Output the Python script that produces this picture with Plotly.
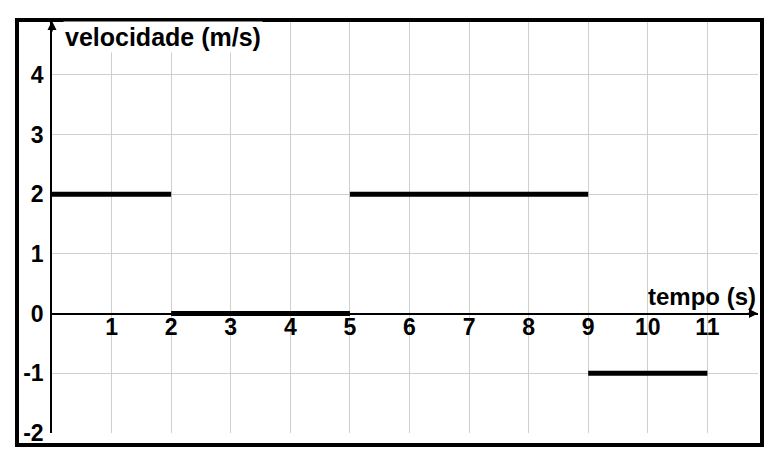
"""
Velocity vs time step graph (velocidade x tempo)
"""

import plotly.graph_objects as go

# segment data: start/end time (s) and velocity (m/s)
seg_start = [0, 2, 5, 9]
seg_end = [2, 5, 9, 11]
seg_vel = [2, 0, 2, -1]

x_ticks = [1, 2, 3, 4, 5, 6, 7, 8, 9, 10, 11]
y_ticks = [-2, -1, 0, 1, 2, 3, 4]

x_range = [0, 11.85]
y_range = [-2, 4.9]

# page body adds an 8px offset, so size the figure a bit smaller
OFF = 8
W, H = 776 - OFF, 458 - OFF
margin = dict(l=52 - OFF, r=18, t=21 - OFF, b=25)
FONT = 'Liberation Sans, Arial, sans-serif'

# build one line trace with gaps between segments
xs, ys = [], []
for t0, t1, v in zip(seg_start, seg_end, seg_vel):
    xs += [t0, t1, None]
    ys += [v, v, None]

fig = go.Figure()
fig.add_trace(go.Scatter(
    x=xs
    ,y=ys
    ,mode='lines'
    ,line=dict(color='black', width=5)
    ,connectgaps=False
    ,hoverinfo='skip'
    ,showlegend=False
))

# where y=0 sits on the paper (x axis drawn there)
zero_pos = (0 - y_range[0]) / (y_range[1] - y_range[0])

fig.update_layout(
    width=W
    ,height=H
    ,margin=margin
    ,paper_bgcolor='white'
    ,plot_bgcolor='white'
    ,showlegend=False
    ,xaxis=dict(
        range=x_range
        ,tickvals=x_ticks
        ,ticktext=[str(t) for t in x_ticks]
        ,tickfont=dict(family=FONT, size=23, color='black', weight='bold')
        ,showgrid=True
        ,gridcolor='#cfcfcf'
        ,gridwidth=1
        ,zeroline=False
        ,showline=True
        ,linecolor='black'
        ,linewidth=1.5
        ,anchor='free'
        ,position=zero_pos
        ,ticks=''
        ,ticklabelstandoff=-7
    )
    ,yaxis=dict(
        range=y_range
        ,tickvals=y_ticks
        ,ticktext=[str(t) for t in y_ticks]
        ,tickfont=dict(family=FONT, size=23, color='black', weight='bold')
        ,showgrid=True
        ,gridcolor='#cfcfcf'
        ,gridwidth=1
        ,zeroline=False
        ,showline=True
        ,linecolor='black'
        ,linewidth=1.5
        ,ticks=''
        ,ticklabelstandoff=2
    )
)

# outer frame around the whole drawing (pixel spots from the page corner)
pw = W - margin['l'] - margin['r']
ph = H - margin['t'] - margin['b']
left_px = OFF + margin['l']
bottom_px = OFF + H - margin['b']
fig.add_shape(
    type='rect'
    ,xref='paper', yref='paper'
    ,x0=(17 - left_px) / pw
    ,x1=(762 - left_px) / pw
    ,y0=(bottom_px - 445) / ph
    ,y1=(bottom_px - 20) / ph
    ,line=dict(color='black', width=4)
    ,layer='above'
)

# axis arrows
fig.add_annotation(
    x=x_range[1], y=0, xref='x', yref='y'
    ,ax=-12, ay=0, text=''
    ,showarrow=True, arrowhead=2, arrowsize=1.2, arrowwidth=1.5, arrowcolor='black'
)
fig.add_annotation(
    x=0, y=y_range[1], xref='x', yref='y'
    ,ax=0, ay=12, text=''
    ,showarrow=True, arrowhead=2, arrowsize=1.2, arrowwidth=1.5, arrowcolor='black'
)

# axis titles
fig.add_annotation(
    x=(63 - left_px) / pw, y=(bottom_px - 37) / ph
    ,xref='paper', yref='paper'
    ,xanchor='left', yanchor='middle'
    ,text='<b>velocidade (m/s)</b>'
    ,font=dict(family=FONT, size=25, color='black')
    ,bgcolor='white'
    ,showarrow=False
)
fig.add_annotation(
    x=x_range[1], y=0, xref='x', yref='y'
    ,xanchor='right', yanchor='bottom'
    ,yshift=2
    ,text='<b>tempo (s)</b>'
    ,font=dict(family=FONT, size=24, color='black')
    ,showarrow=False
)

fig.write_html("out.html")
